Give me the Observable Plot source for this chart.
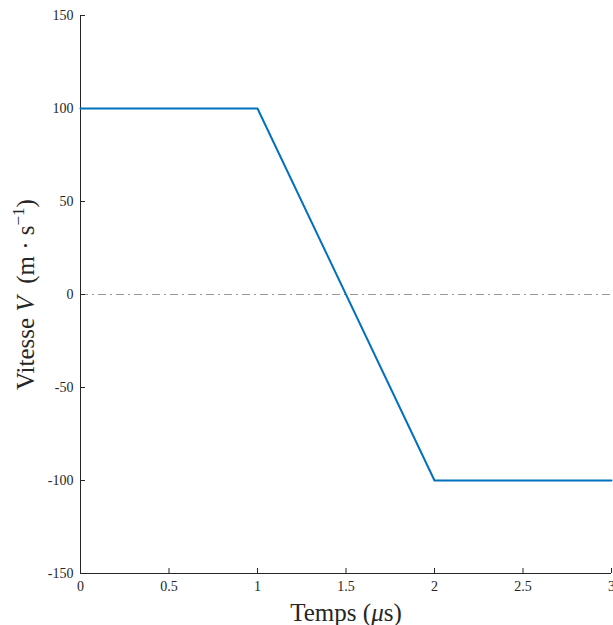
<!DOCTYPE html>
<html>
<head>
<meta charset="utf-8">
<script src="https://cdn.jsdelivr.net/npm/d3@7"></script>
<script src="https://cdn.jsdelivr.net/npm/@observablehq/plot@0.6"></script>
<style>
  html, body { margin: 0; padding: 0; background: #fff; }
  svg { display: block; }
  svg text { font-family: "Liberation Serif", "DejaVu Serif", serif; }
</style>
</head>
<body>
<div id="chart"></div>
<script>
const timeUs = [0, 1, 2, 3];
const velocity = [100, 100, -100, -100];
const xTicks = [0, 0.5, 1, 1.5, 2, 2.5, 3];
const yTicks = [-150, -100, -50, 0, 50, 100, 150];
const zeroLine = [0];

const data = timeUs.map((t, i) => ({t, v: velocity[i]}));
const axisColor = "#262626";

const chart = Plot.plot({
  width: 613,
  height: 625,
  marginLeft: 80,
  marginRight: 2,
  marginTop: 15,
  marginBottom: 52,
  style: {fontFamily: "'Liberation Serif', 'DejaVu Serif', serif", fontSize: "14px", color: axisColor, background: "#fff"},
  x: {domain: [0, 3]},
  y: {domain: [-150, 150]},
  marks: [
    Plot.ruleY(zeroLine, {stroke: "#999999", strokeWidth: 1, strokeDasharray: "8,4,2,4"}),
    Plot.axisX({ticks: xTicks, tickSize: -5, tickPadding: 13, tickFormat: d => String(d), stroke: axisColor, fontSize: 14, label: "Temps (μs)", labelAnchor: "center", labelArrow: "none", labelOffset: 47}),
    Plot.axisY({ticks: yTicks, tickSize: -5, tickPadding: 12, tickFormat: d => String(d), stroke: axisColor, fontSize: 14, label: "Vitesse V (m·s−1)", labelAnchor: "center", labelArrow: "none", labelOffset: 64}),
    Plot.ruleX([0], {stroke: axisColor, strokeWidth: 1}),
    Plot.ruleY([-150], {stroke: axisColor, strokeWidth: 1}),
    Plot.line(data, {x: "t", y: "v", stroke: "#0072BD", strokeWidth: 2})
  ]
});

// rich label formatting (italic symbols, superscript)
const xl = chart.querySelector('[aria-label="x-axis label"] text');
if (xl) {
  xl.setAttribute("font-size", "25");
  xl.innerHTML = 'Temps (<tspan font-style="italic">μ</tspan>s)';
}
const yl = chart.querySelector('[aria-label="y-axis label"] text');
if (yl) {
  yl.setAttribute("font-size", "25");
  yl.innerHTML = 'Vitesse <tspan font-style="italic">V</tspan>  (m · s<tspan dy="-10" font-size="17">−1</tspan><tspan dy="10">)</tspan>';
}
document.getElementById("chart").appendChild(chart);
</script>
</body>
</html>
